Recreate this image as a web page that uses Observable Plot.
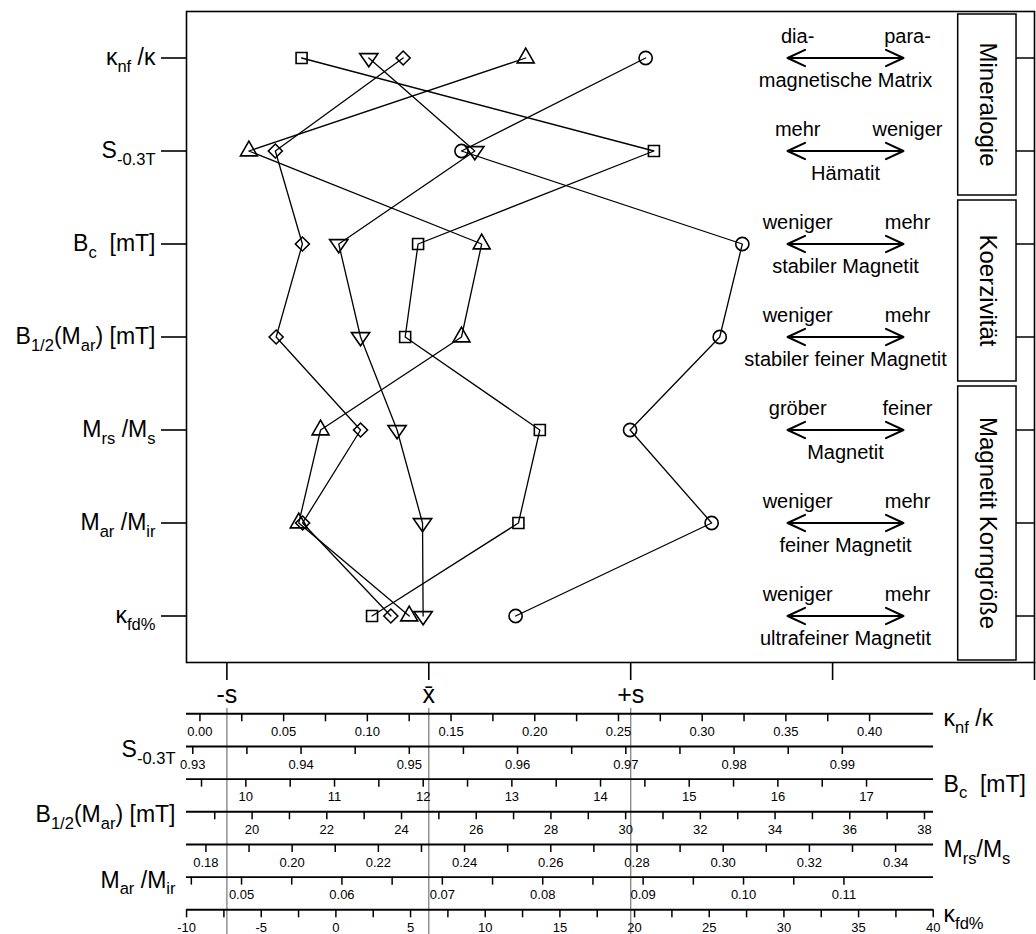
<!DOCTYPE html>
<html>
<head>
<meta charset="utf-8">
<script src="https://cdn.jsdelivr.net/npm/d3@7"></script>
<script src="https://cdn.jsdelivr.net/npm/@observablehq/plot@0.6"></script>
<style>
  body { margin: 0; background: #fff; }
  #chart svg { display: block; }
</style>
</head>
<body>
<div id="chart"></div>
<script>
const FONT = "'Liberation Sans', Arial, Helvetica, sans-serif";

// ---------- Parameters (rows, top to bottom) ----------
const rowLabels = ["κ_{nf} /κ", "S_{-0.3T}", "B_{c}  [mT]", "B_{1/2}(M_{ar}) [mT]", "M_{rs} /M_{s}", "M_{ar} /M_{ir}", "κ_{fd%}"];

// ---------- Standardized values (deviation from x̄ in units of s), one array per sample ----------
const squareVals  = [-0.630, 1.115, -0.053, -0.117, 0.550, 0.444, -0.281];
const triDownVals = [-0.297, 0.228, -0.446, -0.338, -0.157, -0.031, -0.028];
const diamondVals = [-0.127, -0.760, -0.626, -0.756, -0.338, -0.625, -0.188];
const triUpVals   = [0.480, -0.891, 0.262, 0.162, -0.536, -0.644, -0.097];
const circleVals  = [1.074, 0.162, 1.553, 1.441, 0.997, 1.401, 0.430];

// ---------- Interpretation annotations ----------
const leftWords   = ["dia-", "mehr", "weniger", "weniger", "gröber", "weniger", "weniger"];
const rightWords  = ["para-", "weniger", "mehr", "mehr", "feiner", "mehr", "mehr"];
const bottomWords = ["magnetische Matrix", "Hämatit", "stabiler Magnetit", "stabiler feiner Magnetit", "Magnetit", "feiner Magnetit", "ultrafeiner Magnetit"];

const groupNames    = ["Mineralogie", "Koerzivität", "Magnetit Korngröße"];
const groupFirstRow = [0, 2, 4];
const groupLastRow  = [1, 3, 6];

const sigmaTicks  = [-1, 0, 1, 2, 3];
const sigmaLabels = ["-s", "x\u0304", "+s"];
const sigmaGuides = [-1, 0, 1];

// ---------- Conversion scales below the chart ----------
const scaleNames    = ["κ_{nf} /κ", "S_{-0.3T}", "B_{c}  [mT]", "B_{1/2}(M_{ar}) [mT]", "M_{rs}/M_{s}", "M_{ar} /M_{ir}", "κ_{fd%}"];
const scaleNameSide = ["right", "left", "right", "left", "right", "left", "right"];
const scaleMeans    = [0.1367, 0.9518, 12.063, 24.73, 0.2317, 0.06865, 6.22];
const scaleSDs      = [0.1206, 0.01865, 2.277, 5.405, 0.04684, 0.02011, 13.52];
const scaleDecimals = [2, 2, 0, 0, 2, 2, 0];
const scaleMajorTicks = [
  [0.00, 0.05, 0.10, 0.15, 0.20, 0.25, 0.30, 0.35, 0.40],
  [0.93, 0.94, 0.95, 0.96, 0.97, 0.98, 0.99],
  [10, 11, 12, 13, 14, 15, 16, 17],
  [20, 22, 24, 26, 28, 30, 32, 34, 36, 38],
  [0.18, 0.20, 0.22, 0.24, 0.26, 0.28, 0.30, 0.32, 0.34],
  [0.05, 0.06, 0.07, 0.08, 0.09, 0.10, 0.11],
  [-10, -5, 0, 5, 10, 15, 20, 25, 30, 35, 40]
];
const scaleMinorTicks = [
  [0.025, 0.075, 0.125, 0.175, 0.225, 0.275, 0.325, 0.375],
  [0.935, 0.945, 0.955, 0.965, 0.975, 0.985],
  [9.5, 10.5, 11.5, 12.5, 13.5, 14.5, 15.5, 16.5],
  [19, 21, 23, 25, 27, 29, 31, 33, 35, 37],
  [0.19, 0.21, 0.23, 0.25, 0.27, 0.29, 0.31, 0.33],
  [0.045, 0.055, 0.065, 0.075, 0.085, 0.095, 0.105],
  [-7.5, -2.5, 2.5, 7.5, 12.5, 17.5, 22.5, 27.5, 32.5, 37.5]
];

// ---------- Build ----------
const rowIdx = d3.range(rowLabels.length);
const X_DOMAIN = [-1.2, 3];
const X_RANGE = [186, 1034];
const BOX_X1 = 2.622, BOX_X2 = 2.911;
const ARROW_L = 1.777, ARROW_C = 2.064, ARROW_R = 2.351;
const WORD_L = 1.827, WORD_R = 2.371;

// custom downward triangle symbol
const triangleDown = {
  draw(ctx, size) {
    const s = Math.sqrt(size);
    ctx.moveTo(-0.83 * s, -0.4 * s);
    ctx.lineTo(0.83 * s, -0.4 * s);
    ctx.lineTo(0, 0.8 * s);
    ctx.closePath();
  }
};

const series = [
  {vals: squareVals,  symbol: "square",     r: 6.2},
  {vals: triDownVals, symbol: triangleDown, r: 6.2},
  {vals: diamondVals, symbol: "diamond2",   r: 6.3},
  {vals: triUpVals,   symbol: "triangle",   r: 6.3},
  {vals: circleVals,  symbol: "circle",     r: 6.6}
];

const mainPlot = Plot.plot({
  width: 1036, height: 680,
  marginLeft: 186, marginRight: 2, marginTop: 11, marginBottom: 18,
  x: {domain: X_DOMAIN, range: X_RANGE},
  y: {domain: [-0.5, 6.5], range: [11, 662]},
  style: {fontFamily: FONT, background: "white", color: "black"},
  marks: [
    Plot.frame({stroke: "black", strokeWidth: 1.6}),
    Plot.axisY({anchor: "left", ticks: rowIdx, tickFormat: i => rowLabels[i], tickSize: 25, tickPadding: 6,
      fontSize: 23, label: null, strokeWidth: 1.6}),
    Plot.axisX({anchor: "bottom", ticks: sigmaTicks, tickFormat: () => "",
      tickSize: 18, tickPadding: 0, label: null, strokeWidth: 1.6}),
    // right-hand inward ticks
    Plot.ruleY(rowIdx, {y: d => d, x1: BOX_X2, x2: X_DOMAIN[1], stroke: "black", strokeWidth: 1.5}),
    // group boxes
    Plot.rect(d3.range(groupNames.length), {x1: BOX_X1, x2: BOX_X2,
      y1: g => groupFirstRow[g] - 0.5, y2: g => groupLastRow[g] + 0.5,
      insetTop: 3, insetBottom: 2, fill: "none", stroke: "black", strokeWidth: 1.5}),
    Plot.text(d3.range(groupNames.length), {x: (BOX_X1 + BOX_X2) / 2,
      y: g => (groupFirstRow[g] + groupLastRow[g]) / 2, text: g => groupNames[g],
      rotate: 90, fontSize: 24, fill: "black"}),
    // interpretation arrows (double-headed, drawn as two halves)
    Plot.arrow(rowIdx, {x1: ARROW_C, x2: ARROW_L, y1: d => d, y2: d => d, headLength: 14, headAngle: 50, strokeWidth: 2.1, stroke: "black"}),
    Plot.arrow(rowIdx, {x1: ARROW_C, x2: ARROW_R, y1: d => d, y2: d => d, headLength: 14, headAngle: 50, strokeWidth: 2.1, stroke: "black"}),
    Plot.text(rowIdx, {x: WORD_L, y: d => d, text: i => leftWords[i], dy: -21, fontSize: 20, fill: "black"}),
    Plot.text(rowIdx, {x: WORD_R, y: d => d, text: i => rightWords[i], dy: -21, fontSize: 20, fill: "black"}),
    Plot.text(rowIdx, {x: ARROW_C, y: d => d, text: i => bottomWords[i], dy: 23, fontSize: 20, fill: "black"}),
    // sample profiles
    ...series.map(s => Plot.line(rowIdx, {x: i => s.vals[i], y: i => i, stroke: "black", strokeWidth: 1.3})),
    ...series.map(s => Plot.dot(rowIdx, {x: i => s.vals[i], y: i => i, symbol: s.symbol, r: s.r,
      stroke: "black", fill: "none", strokeWidth: 1.6}))
  ]
});

const scaleIdx = d3.range(scaleNames.length);
const zOf = (k, v) => (v - scaleMeans[k]) / scaleSDs[k];
const tickRows = scaleIdx.flatMap(k => [...scaleMajorTicks[k], ...scaleMinorTicks[k]].map(v => ({k, z: zOf(k, v)})));
const labelRows = scaleIdx.flatMap(k => scaleMajorTicks[k].map(v => ({k, z: zOf(k, v), text: v.toFixed(scaleDecimals[k])})));
const ROW_PX = 32.67;
const TICK = 8 / ROW_PX;
const SCALE_END = 2.5;

const scalePlot = Plot.plot({
  width: 1036, height: 254,
  marginLeft: 186, marginRight: 2, marginTop: 33.3, marginBottom: 24.7,
  x: {domain: X_DOMAIN, range: X_RANGE, axis: null},
  y: {domain: [0, 6], range: [33.3, 229.3], axis: null},
  style: {fontFamily: FONT, background: "white", color: "black"},
  marks: [
    // -s, x̄, +s labels under the main chart
    Plot.text(sigmaGuides, {x: d => d, y: 0, text: (d, i) => sigmaLabels[i], dy: -18.5, fontSize: 25, fill: "black"}),
    Plot.ruleX(sigmaGuides, {x: d => d, y1: -0.165, y2: 6.8, stroke: "#8a8a8a", strokeWidth: 1.4}),
    Plot.ruleY(scaleIdx, {y: d => d, x1: X_DOMAIN[0], x2: SCALE_END, stroke: "black", strokeWidth: 1.9}),
    Plot.ruleX(tickRows, {x: "z", y1: "k", y2: d => d.k + TICK, stroke: "black", strokeWidth: 1.5}),
    Plot.text(labelRows, {x: "z", y: "k", text: "text", dy: 18, fontSize: 13, fill: "black"}),
    Plot.text(scaleIdx.filter(k => scaleNameSide[k] === "right"), {x: SCALE_END, y: d => d, text: k => scaleNames[k],
      dx: 10, dy: 5, textAnchor: "start", fontSize: 23, fill: "black"}),
    Plot.text(scaleIdx.filter(k => scaleNameSide[k] === "left"), {x: X_DOMAIN[0], y: d => d, text: k => scaleNames[k],
      dx: -11, dy: 3, textAnchor: "end", fontSize: 23, fill: "black"})
  ]
});

const chart = document.getElementById("chart");
chart.appendChild(mainPlot);
chart.appendChild(scalePlot);

// turn "_{...}" markup into real subscripts
function subify(root) {
  const NS = "http://www.w3.org/2000/svg";
  root.querySelectorAll("text").forEach(t => {
    const s = t.textContent;
    if (!s.includes("_{")) return;
    const fs = parseFloat(getComputedStyle(t).fontSize) || 16;
    const shift = fs * 0.3;
    t.textContent = "";
    let down = false;
    for (const p of s.split(/(_\{[^}]*\})/)) {
      if (!p) continue;
      const ts = document.createElementNS(NS, "tspan");
      if (p.startsWith("_{")) {
        ts.textContent = p.slice(2, -1);
        ts.setAttribute("font-size", (fs * 0.72).toFixed(2));
        if (!down) { ts.setAttribute("dy", shift.toFixed(2)); down = true; }
      } else {
        ts.textContent = p;
        if (down) { ts.setAttribute("dy", (-shift).toFixed(2)); down = false; }
      }
      t.appendChild(ts);
    }
  });
}
subify(mainPlot);
subify(scalePlot);
</script>
</body>
</html>
